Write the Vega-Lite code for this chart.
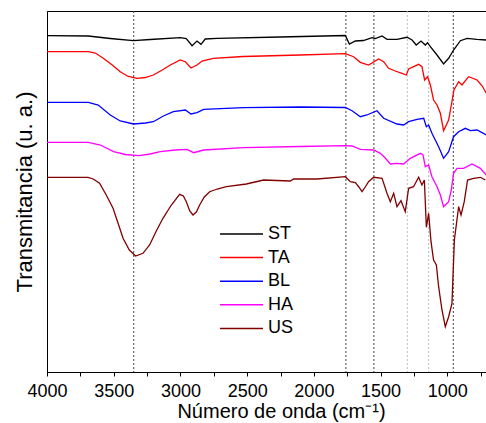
{
  "$schema": "https://vega.github.io/schema/vega-lite/v6.json",
  "width": 439,
  "height": 361,
  "autosize": {"type": "none"},
  "padding": {"left": 47, "top": 11, "right": 0, "bottom": 51},
  "config": {"view": {"stroke": "#000000", "strokeWidth": 1}, "font": "Liberation Sans"},
  "datasets": {
    "dark": [{"wn": 3350}, {"wn": 1760}, {"wn": 1550}, {"wn": 955}],
    "light": [{"wn": 1300}, {"wn": 1140}],
    "spectra": [
      {"s": "ST", "wn": 4000, "t": 336.3}, {"s": "ST", "wn": 3690, "t": 336}, {"s": "ST", "wn": 3526, "t": 333.5}, {"s": "ST", "wn": 3353, "t": 331.3}, {"s": "ST", "wn": 3226, "t": 332.5}, {"s": "ST", "wn": 3001, "t": 334.3}, {"s": "ST", "wn": 2956, "t": 333.5}, {"s": "ST", "wn": 2913, "t": 326.3}, {"s": "ST", "wn": 2876, "t": 331}, {"s": "ST", "wn": 2846, "t": 327.7}, {"s": "ST", "wn": 2814, "t": 333}, {"s": "ST", "wn": 2726, "t": 333.7}, {"s": "ST", "wn": 2251, "t": 335}, {"s": "ST", "wn": 1764, "t": 336.5}, {"s": "ST", "wn": 1734, "t": 328}, {"s": "ST", "wn": 1689, "t": 331}, {"s": "ST", "wn": 1629, "t": 331.5}, {"s": "ST", "wn": 1564, "t": 334.3}, {"s": "ST", "wn": 1540, "t": 333.5}, {"s": "ST", "wn": 1489, "t": 336}, {"s": "ST", "wn": 1452, "t": 332.7}, {"s": "ST", "wn": 1377, "t": 332.7}, {"s": "ST", "wn": 1302, "t": 334.7}, {"s": "ST", "wn": 1264, "t": 332}, {"s": "ST", "wn": 1233, "t": 327}, {"s": "ST", "wn": 1197, "t": 331}, {"s": "ST", "wn": 1165, "t": 327}, {"s": "ST", "wn": 1148, "t": 329.3}, {"s": "ST", "wn": 1127, "t": 325.3}, {"s": "ST", "wn": 1077, "t": 317}, {"s": "ST", "wn": 1028, "t": 308}, {"s": "ST", "wn": 990, "t": 313.7}, {"s": "ST", "wn": 953, "t": 322}, {"s": "ST", "wn": 902, "t": 331.3}, {"s": "ST", "wn": 852, "t": 333.7}, {"s": "ST", "wn": 777, "t": 332.7}, {"s": "ST", "wn": 708, "t": 332},
      {"s": "TA", "wn": 4000, "t": 320.3}, {"s": "TA", "wn": 3688, "t": 320.3}, {"s": "TA", "wn": 3638, "t": 319}, {"s": "TA", "wn": 3578, "t": 313.7}, {"s": "TA", "wn": 3511, "t": 307}, {"s": "TA", "wn": 3451, "t": 300.3}, {"s": "TA", "wn": 3391, "t": 295.5}, {"s": "TA", "wn": 3325, "t": 293.7}, {"s": "TA", "wn": 3263, "t": 294.5}, {"s": "TA", "wn": 3203, "t": 297}, {"s": "TA", "wn": 3136, "t": 302}, {"s": "TA", "wn": 3076, "t": 307}, {"s": "TA", "wn": 3001, "t": 312}, {"s": "TA", "wn": 2963, "t": 310.3}, {"s": "TA", "wn": 2921, "t": 304}, {"s": "TA", "wn": 2876, "t": 307}, {"s": "TA", "wn": 2838, "t": 311}, {"s": "TA", "wn": 2754, "t": 313.7}, {"s": "TA", "wn": 2529, "t": 315.5}, {"s": "TA", "wn": 2102, "t": 317}, {"s": "TA", "wn": 1764, "t": 318.3}, {"s": "TA", "wn": 1702, "t": 315.3}, {"s": "TA", "wn": 1652, "t": 309.7}, {"s": "TA", "wn": 1590, "t": 307}, {"s": "TA", "wn": 1515, "t": 313}, {"s": "TA", "wn": 1477, "t": 310.3}, {"s": "TA", "wn": 1440, "t": 303.7}, {"s": "TA", "wn": 1390, "t": 301}, {"s": "TA", "wn": 1339, "t": 298.7}, {"s": "TA", "wn": 1307, "t": 297}, {"s": "TA", "wn": 1290, "t": 303}, {"s": "TA", "wn": 1215, "t": 307.7}, {"s": "TA", "wn": 1190, "t": 305.3}, {"s": "TA", "wn": 1170, "t": 292}, {"s": "TA", "wn": 1148, "t": 295.3}, {"s": "TA", "wn": 1127, "t": 287}, {"s": "TA", "wn": 1103, "t": 272}, {"s": "TA", "wn": 1077, "t": 267}, {"s": "TA", "wn": 1052, "t": 258.7}, {"s": "TA", "wn": 1028, "t": 241.3}, {"s": "TA", "wn": 990, "t": 252}, {"s": "TA", "wn": 970, "t": 267}, {"s": "TA", "wn": 950, "t": 282}, {"s": "TA", "wn": 915, "t": 290.3}, {"s": "TA", "wn": 890, "t": 287}, {"s": "TA", "wn": 840, "t": 295.3}, {"s": "TA", "wn": 777, "t": 292}, {"s": "TA", "wn": 738, "t": 286}, {"s": "TA", "wn": 708, "t": 278.7},
      {"s": "BL", "wn": 4000, "t": 269.7}, {"s": "BL", "wn": 3690, "t": 269.7}, {"s": "BL", "wn": 3616, "t": 267}, {"s": "BL", "wn": 3526, "t": 257}, {"s": "BL", "wn": 3451, "t": 251}, {"s": "BL", "wn": 3351, "t": 248}, {"s": "BL", "wn": 3263, "t": 249}, {"s": "BL", "wn": 3203, "t": 250.3}, {"s": "BL", "wn": 3128, "t": 256}, {"s": "BL", "wn": 3053, "t": 260.3}, {"s": "BL", "wn": 2963, "t": 262}, {"s": "BL", "wn": 2921, "t": 258}, {"s": "BL", "wn": 2876, "t": 259.3}, {"s": "BL", "wn": 2826, "t": 262.7}, {"s": "BL", "wn": 2529, "t": 264.3}, {"s": "BL", "wn": 2102, "t": 265}, {"s": "BL", "wn": 1764, "t": 264.5}, {"s": "BL", "wn": 1714, "t": 261.3}, {"s": "BL", "wn": 1652, "t": 255.3}, {"s": "BL", "wn": 1602, "t": 257}, {"s": "BL", "wn": 1527, "t": 261.3}, {"s": "BL", "wn": 1477, "t": 253.7}, {"s": "BL", "wn": 1377, "t": 248}, {"s": "BL", "wn": 1327, "t": 247}, {"s": "BL", "wn": 1290, "t": 250.3}, {"s": "BL", "wn": 1227, "t": 252.7}, {"s": "BL", "wn": 1177, "t": 253.7}, {"s": "BL", "wn": 1157, "t": 245.3}, {"s": "BL", "wn": 1140, "t": 247}, {"s": "BL", "wn": 1115, "t": 238.7}, {"s": "BL", "wn": 1090, "t": 232}, {"s": "BL", "wn": 1065, "t": 225.3}, {"s": "BL", "wn": 1028, "t": 213.7}, {"s": "BL", "wn": 990, "t": 220.3}, {"s": "BL", "wn": 953, "t": 235.3}, {"s": "BL", "wn": 915, "t": 240.3}, {"s": "BL", "wn": 865, "t": 243.7}, {"s": "BL", "wn": 827, "t": 241.3}, {"s": "BL", "wn": 777, "t": 242}, {"s": "BL", "wn": 708, "t": 237},
      {"s": "HA", "wn": 4000, "t": 229.7}, {"s": "HA", "wn": 3690, "t": 229.7}, {"s": "HA", "wn": 3600, "t": 227}, {"s": "HA", "wn": 3501, "t": 220.3}, {"s": "HA", "wn": 3413, "t": 217.5}, {"s": "HA", "wn": 3313, "t": 216.3}, {"s": "HA", "wn": 3226, "t": 218}, {"s": "HA", "wn": 3151, "t": 220.3}, {"s": "HA", "wn": 3038, "t": 222}, {"s": "HA", "wn": 2951, "t": 222.7}, {"s": "HA", "wn": 2901, "t": 219.3}, {"s": "HA", "wn": 2826, "t": 222}, {"s": "HA", "wn": 2529, "t": 224.3}, {"s": "HA", "wn": 2102, "t": 225.5}, {"s": "HA", "wn": 1764, "t": 226.3}, {"s": "HA", "wn": 1714, "t": 226}, {"s": "HA", "wn": 1652, "t": 222.7}, {"s": "HA", "wn": 1552, "t": 222}, {"s": "HA", "wn": 1502, "t": 218.7}, {"s": "HA", "wn": 1465, "t": 214}, {"s": "HA", "wn": 1427, "t": 208}, {"s": "HA", "wn": 1377, "t": 208.7}, {"s": "HA", "wn": 1327, "t": 208}, {"s": "HA", "wn": 1277, "t": 213.7}, {"s": "HA", "wn": 1202, "t": 218.7}, {"s": "HA", "wn": 1182, "t": 217}, {"s": "HA", "wn": 1165, "t": 205.3}, {"s": "HA", "wn": 1140, "t": 207}, {"s": "HA", "wn": 1115, "t": 195.3}, {"s": "HA", "wn": 1077, "t": 185.3}, {"s": "HA", "wn": 1052, "t": 177}, {"s": "HA", "wn": 1028, "t": 165.3}, {"s": "HA", "wn": 990, "t": 170.3}, {"s": "HA", "wn": 970, "t": 182}, {"s": "HA", "wn": 953, "t": 198.7}, {"s": "HA", "wn": 927, "t": 203.7}, {"s": "HA", "wn": 878, "t": 203.7}, {"s": "HA", "wn": 815, "t": 208}, {"s": "HA", "wn": 752, "t": 203.7}, {"s": "HA", "wn": 708, "t": 197},
      {"s": "US", "wn": 4000, "t": 194.7}, {"s": "US", "wn": 3693, "t": 194.7}, {"s": "US", "wn": 3653, "t": 193}, {"s": "US", "wn": 3606, "t": 188.7}, {"s": "US", "wn": 3556, "t": 177}, {"s": "US", "wn": 3505, "t": 163.7}, {"s": "US", "wn": 3468, "t": 149}, {"s": "US", "wn": 3430, "t": 133.7}, {"s": "US", "wn": 3383, "t": 122}, {"s": "US", "wn": 3336, "t": 116}, {"s": "US", "wn": 3281, "t": 118.7}, {"s": "US", "wn": 3231, "t": 127}, {"s": "US", "wn": 3181, "t": 141}, {"s": "US", "wn": 3131, "t": 153.7}, {"s": "US", "wn": 3068, "t": 167}, {"s": "US", "wn": 3006, "t": 177.7}, {"s": "US", "wn": 2978, "t": 176}, {"s": "US", "wn": 2956, "t": 170.3}, {"s": "US", "wn": 2930, "t": 161}, {"s": "US", "wn": 2906, "t": 157}, {"s": "US", "wn": 2881, "t": 160}, {"s": "US", "wn": 2856, "t": 167}, {"s": "US", "wn": 2821, "t": 175}, {"s": "US", "wn": 2781, "t": 180.3}, {"s": "US", "wn": 2724, "t": 183}, {"s": "US", "wn": 2656, "t": 185.3}, {"s": "US", "wn": 2506, "t": 188}, {"s": "US", "wn": 2377, "t": 192}, {"s": "US", "wn": 2177, "t": 191}, {"s": "US", "wn": 2152, "t": 193}, {"s": "US", "wn": 1976, "t": 193}, {"s": "US", "wn": 1764, "t": 195.3}, {"s": "US", "wn": 1727, "t": 190.3}, {"s": "US", "wn": 1689, "t": 189.3}, {"s": "US", "wn": 1663, "t": 185}, {"s": "US", "wn": 1639, "t": 180.3}, {"s": "US", "wn": 1615, "t": 185}, {"s": "US", "wn": 1590, "t": 190.3}, {"s": "US", "wn": 1552, "t": 194.7}, {"s": "US", "wn": 1489, "t": 193.7}, {"s": "US", "wn": 1452, "t": 178.7}, {"s": "US", "wn": 1427, "t": 170.3}, {"s": "US", "wn": 1402, "t": 178.7}, {"s": "US", "wn": 1377, "t": 165.3}, {"s": "US", "wn": 1347, "t": 171.3}, {"s": "US", "wn": 1315, "t": 160.3}, {"s": "US", "wn": 1290, "t": 183.7}, {"s": "US", "wn": 1253, "t": 185.3}, {"s": "US", "wn": 1215, "t": 194.7}, {"s": "US", "wn": 1190, "t": 187}, {"s": "US", "wn": 1172, "t": 192}, {"s": "US", "wn": 1157, "t": 144.7}, {"s": "US", "wn": 1140, "t": 158.7}, {"s": "US", "wn": 1122, "t": 130.3}, {"s": "US", "wn": 1103, "t": 112}, {"s": "US", "wn": 1082, "t": 107}, {"s": "US", "wn": 1065, "t": 85.3}, {"s": "US", "wn": 1040, "t": 62}, {"s": "US", "wn": 1015, "t": 45.3}, {"s": "US", "wn": 990, "t": 55.3}, {"s": "US", "wn": 965, "t": 68.7}, {"s": "US", "wn": 947, "t": 132}, {"s": "US", "wn": 915, "t": 165.3}, {"s": "US", "wn": 897, "t": 157}, {"s": "US", "wn": 873, "t": 170.3}, {"s": "US", "wn": 848, "t": 192}, {"s": "US", "wn": 803, "t": 193.7}, {"s": "US", "wn": 752, "t": 194.7}, {"s": "US", "wn": 715, "t": 192}
    ]
  },
  "encoding": {
    "x": {
      "field": "wn",
      "type": "quantitative",
      "scale": {"domain": [710, 4000], "reverse": true, "nice": false, "zero": false},
      "axis": {
        "title": "Número de onda (cm⁻¹)",
        "titleX": 234,
        "values": [4000, 3750, 3500, 3250, 3000, 2750, 2500, 2250, 2000, 1750, 1500, 1250, 1000, 750],
        "format": "d",
        "labelExpr": "datum.value % 500 === 0 ? datum.label : ''",
        "grid": false,
        "domainColor": "#000000",
        "tickColor": "#000000",
        "tickSize": 4,
        "labelPadding": 6,
        "labelFont": "Liberation Sans",
        "labelFontSize": 18,
        "labelColor": "#000000",
        "labelFlush": false,
        "labelOverlap": false,
        "titleFont": "Liberation Sans",
        "titleFontSize": 20,
        "titleFontWeight": "normal",
        "titleColor": "#000000",
        "titlePadding": 1
      }
    }
  },
  "layer": [
    {"data": {"name": "dark"}, "mark": {"type": "rule", "color": "#444444", "strokeDash": [2, 2], "strokeWidth": 1}},
    {"data": {"name": "light"}, "mark": {"type": "rule", "color": "#bbbbbb", "strokeDash": [2, 2], "strokeWidth": 1}},
    {
      "data": {"name": "spectra"},
      "mark": {"type": "line", "strokeWidth": 1.3},
      "encoding": {
        "y": {
          "field": "t",
          "type": "quantitative",
          "scale": {"domain": [0, 361], "nice": false, "zero": false},
          "axis": {
            "title": "Transmitancia (u. a.)",
            "labels": false,
            "ticks": false,
            "tickSize": 0,
            "grid": false,
            "domainColor": "#000000",
            "titleFont": "Liberation Sans",
            "titleFontSize": 22,
            "titleFontWeight": "normal",
            "titleColor": "#000000",
            "titlePadding": 11
          }
        },
        "color": {
          "field": "s",
          "type": "nominal",
          "scale": {"domain": ["ST", "TA", "BL", "HA", "US"], "range": ["#000000", "#ff0000", "#0000ff", "#ff00ff", "#800000"]},
          "legend": {
            "title": null,
            "orient": "none",
            "legendX": 172,
            "legendY": 213,
            "padding": 0,
            "symbolType": "stroke",
            "symbolSize": 1849,
            "symbolStrokeWidth": 1.5,
            "clipHeight": 20,
            "rowPadding": 3.6,
            "labelFont": "Liberation Sans",
            "labelFontSize": 18,
            "labelColor": "#000000",
            "labelOffset": 4
          }
        }
      }
    }
  ]
}
